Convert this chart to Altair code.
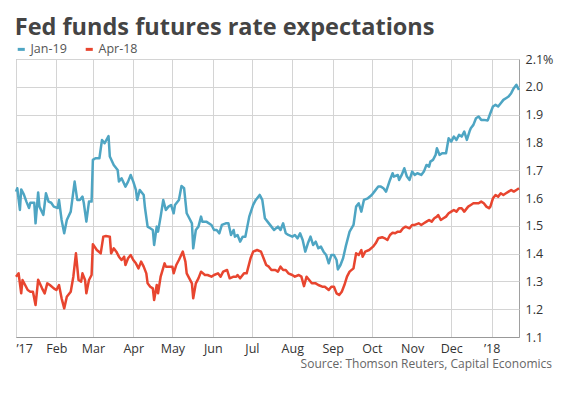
import altair as alt
import pandas as pd

# ---- data (days since 2017-01-01, rate %) ----
jan19_days = [0,1,3,4,6,8,10,11,14,15,17,18,21,23,25,27,29,32,33,35,37,39,42,45,47,49,51,52,54,56,58,59,61,64,66,68,71,72,75,78,79,81,84,86,88,90,92,93,95,98,99,101,103,105,106,108,109,111,113,115,117,119,121,122,125,127,129,131,133,135,136,138,140,142,143,146,150,152,154,156,158,161,163,165,167,168,170,172,174,176,179,182,184,187,189,191,193,196,198,201,203,205,207,209,212,214,216,218,220,222,224,226,228,230,232,234,236,238,240,242,244,246,247,249,251,253,256,259,261,263,265,267,270,273,275,278,280,282,284,287,289,290,293,294,296,298,300,302,304,306,308,311,313,315,317,318,320,322,323,325,327,330,332,334,336,338,340,342,344,346,348,349,351,353,355,357,359,362,364,366,368,370,372,374,376,378,380,382,384,386]
jan19_vals = [1.623,1.635,1.557,1.631,1.613,1.587,1.564,1.583,1.583,1.509,1.62,1.569,1.539,1.617,1.587,1.583,1.569,1.564,1.593,1.521,1.473,1.521,1.551,1.659,1.593,1.593,1.605,1.583,1.515,1.587,1.587,1.737,1.743,1.743,1.809,1.797,1.823,1.749,1.719,1.701,1.659,1.671,1.641,1.659,1.683,1.659,1.629,1.593,1.629,1.611,1.564,1.497,1.491,1.485,1.431,1.497,1.479,1.533,1.593,1.557,1.569,1.575,1.545,1.575,1.593,1.643,1.635,1.545,1.527,1.509,1.419,1.485,1.497,1.533,1.515,1.515,1.503,1.485,1.485,1.473,1.503,1.509,1.509,1.467,1.485,1.461,1.467,1.443,1.461,1.461,1.533,1.575,1.593,1.611,1.593,1.527,1.515,1.497,1.485,1.497,1.485,1.509,1.473,1.467,1.461,1.467,1.455,1.473,1.449,1.407,1.437,1.461,1.431,1.443,1.419,1.425,1.407,1.395,1.365,1.395,1.395,1.377,1.343,1.359,1.383,1.425,1.479,1.503,1.569,1.581,1.551,1.593,1.599,1.611,1.623,1.641,1.641,1.635,1.623,1.665,1.689,1.677,1.683,1.665,1.683,1.707,1.677,1.665,1.695,1.683,1.689,1.683,1.695,1.719,1.713,1.731,1.737,1.755,1.779,1.755,1.761,1.761,1.815,1.803,1.821,1.809,1.827,1.821,1.839,1.809,1.839,1.851,1.863,1.887,1.893,1.881,1.881,1.879,1.905,1.929,1.935,1.929,1.941,1.953,1.959,1.965,1.977,1.995,2.007,1.989]

apr18_days = [0,2,4,5,7,9,11,13,15,17,20,22,24,26,29,31,33,35,37,39,42,44,46,48,50,51,53,54,56,58,59,62,65,67,69,72,73,75,77,79,81,83,84,86,88,90,92,94,96,98,100,101,103,105,106,108,109,111,114,115,118,120,121,123,125,128,130,131,133,135,136,138,140,142,145,147,150,152,155,157,159,162,164,167,169,170,172,175,177,180,182,185,188,190,192,194,196,199,201,203,205,207,209,212,214,217,219,221,223,225,227,230,232,235,237,240,242,244,246,248,250,252,254,256,259,261,263,265,266,268,271,274,276,278,281,283,285,287,289,291,293,295,297,299,302,304,306,309,311,313,315,317,319,321,323,324,326,328,330,332,334,336,338,340,342,344,347,349,351,353,355,357,359,361,363,364,366,368,370,372,374,376,378,380,382,384,386]
apr18_vals = [1.317,1.329,1.257,1.305,1.287,1.269,1.263,1.263,1.215,1.306,1.275,1.257,1.293,1.287,1.275,1.269,1.287,1.239,1.203,1.245,1.263,1.317,1.401,1.305,1.299,1.329,1.305,1.257,1.305,1.323,1.434,1.413,1.401,1.461,1.463,1.461,1.401,1.419,1.407,1.389,1.377,1.389,1.359,1.383,1.395,1.377,1.365,1.347,1.371,1.353,1.329,1.293,1.281,1.275,1.233,1.287,1.257,1.317,1.365,1.353,1.353,1.353,1.329,1.359,1.377,1.407,1.371,1.329,1.311,1.293,1.239,1.293,1.311,1.335,1.323,1.323,1.317,1.323,1.329,1.317,1.335,1.341,1.311,1.317,1.317,1.323,1.311,1.329,1.329,1.383,1.407,1.413,1.407,1.383,1.359,1.353,1.341,1.341,1.335,1.353,1.341,1.341,1.329,1.323,1.317,1.323,1.317,1.283,1.317,1.305,1.293,1.293,1.287,1.281,1.281,1.269,1.281,1.281,1.257,1.251,1.263,1.287,1.317,1.335,1.347,1.401,1.395,1.413,1.389,1.407,1.413,1.425,1.437,1.455,1.459,1.455,1.449,1.467,1.475,1.473,1.479,1.479,1.491,1.497,1.491,1.503,1.503,1.509,1.503,1.509,1.515,1.521,1.515,1.527,1.533,1.539,1.521,1.527,1.533,1.545,1.551,1.557,1.551,1.563,1.563,1.551,1.569,1.575,1.581,1.581,1.581,1.587,1.581,1.569,1.563,1.569,1.599,1.611,1.605,1.617,1.611,1.617,1.623,1.629,1.623,1.629,1.635]

series_names = ["Jan-19", "Apr-18"]
series_colors = ["#4ea5c3", "#e8452f"]
y_ticks = [1.1, 1.2, 1.3, 1.4, 1.5, 1.6, 1.7, 1.8, 1.9, 2.0, 2.1]
title_text = "Fed funds futures rate expectations"
source_text = "Source: Thomson Reuters, Capital Economics"

base = pd.Timestamp("2017-01-01")
df = pd.concat([
    pd.DataFrame({"date": base + pd.to_timedelta(jan19_days, unit="D"),
                  "rate": jan19_vals, "series": "Jan-19"}),
    pd.DataFrame({"date": base + pd.to_timedelta(apr18_days, unit="D"),
                  "rate": apr18_vals, "series": "Apr-18"}),
])

month_ticks = [alt.DateTime(year=2017, month=m, date=1) for m in range(1, 13)] + \
              [alt.DateTime(year=2018, month=1, date=1)]

FONT = "Open Sans"

lines = alt.Chart(df).mark_line(strokeWidth=2.5, strokeJoin="round").encode(
    x=alt.X("date:T",
            scale=alt.Scale(domain=[alt.DateTime(year=2017, month=1, date=1),
                                    alt.DateTime(year=2018, month=1, date=22)]),
            axis=alt.Axis(values=month_ticks, title=None, grid=True, ticks=False,
                          labelExpr="month(datum.value) == 0 ? '\u2019' + timeFormat(datum.value, '%y') : timeFormat(datum.value, '%b')",
                          labelFont=FONT, labelFontSize=12.5, labelColor="#333",
                          labelPadding=5, domainColor="#999", gridColor="#d4d4d4")),
    y=alt.Y("rate:Q",
            scale=alt.Scale(domain=[1.1, 2.1], nice=False, zero=False),
            axis=alt.Axis(orient="right", values=y_ticks, title=None, grid=True,
                          ticks=False, domain=False,
                          labelExpr="abs(datum.value - 2.1) < 0.001 ? format(datum.value, '.1f') + '%' : format(datum.value, '.1f')",
                          labelFont=FONT, labelFontSize=12.5, labelColor="#333",
                          labelPadding=6, gridColor="#d4d4d4")),
    color=alt.Color("series:N",
                    scale=alt.Scale(domain=series_names, range=series_colors),
                    legend=alt.Legend(orient="none", legendX=-1, legendY=-16,
                                      direction="horizontal", title=None,
                                      symbolType="stroke", symbolStrokeWidth=3,
                                      symbolSize=50, labelFont=FONT,
                                      labelFontSize=12.5, labelColor="#555",
                                      labelOffset=3, columnPadding=12)),
    detail="series:N",
)

source = alt.Chart(pd.DataFrame({"t": [source_text]})).mark_text(
    align="right", baseline="alphabetic", font=FONT, fontSize=12, color="#666"
).encode(text="t:N", x=alt.value(536), y=alt.value(309))

chart = alt.layer(lines, source).properties(
    width=503, height=278,
    title=alt.TitleParams(title_text, anchor="start", font=FONT, fontSize=23.5,
                          fontWeight="bold", color="#444", offset=4),
    autosize=alt.AutoSizeParams(type="none"),
    padding={"left": 8, "top": 51, "right": 42, "bottom": 45},
).configure_view(stroke="#a0a0a0")

chart.save("out.html", embed_options={"renderer": "svg", "actions": False})
